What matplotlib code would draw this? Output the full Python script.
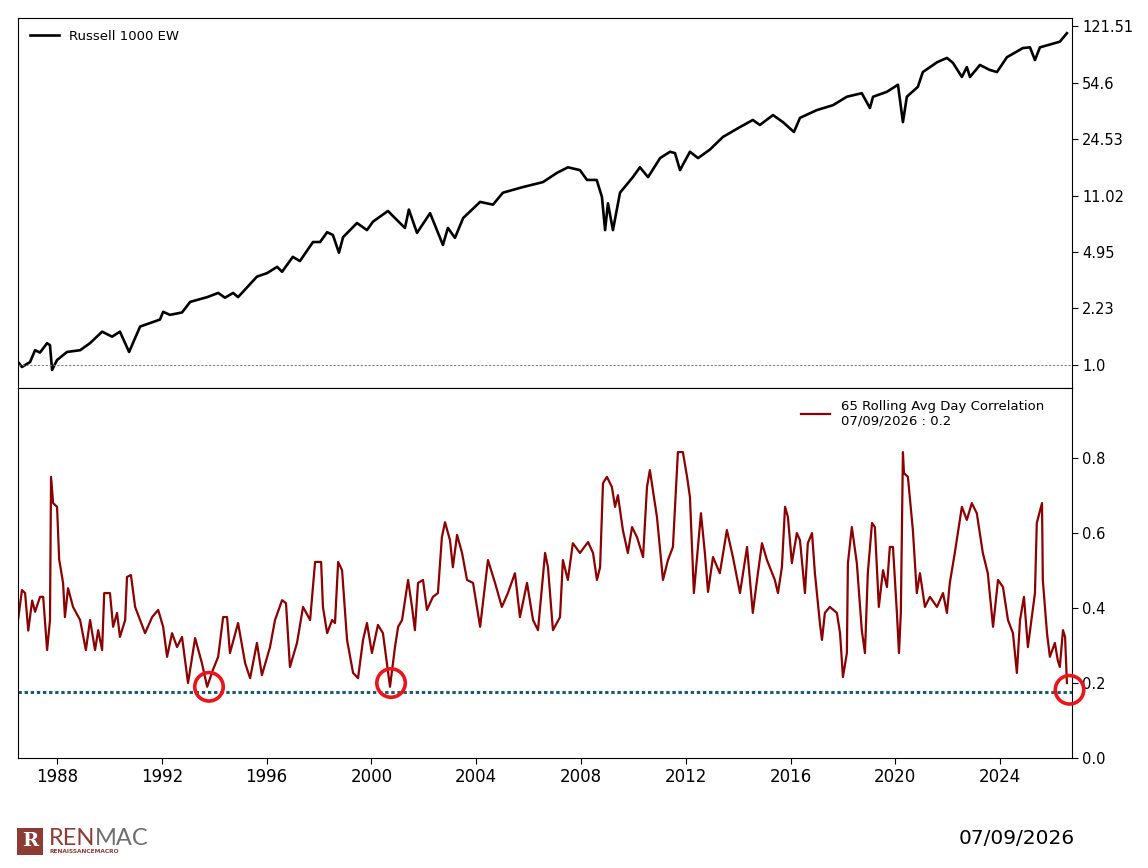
import matplotlib
matplotlib.use("Agg")
import matplotlib.pyplot as plt
from matplotlib.patches import Rectangle

# Russell 1000 EW index (log scale): decimal year, level
idx_years = [1986.51, 1986.66, 1986.97, 1987.16, 1987.35, 1987.62, 1987.73, 1987.81, 1988.0,
             1988.38, 1988.88, 1989.26, 1989.72, 1990.1, 1990.4, 1990.75, 1991.17, 1991.93,
             1992.05, 1992.31, 1992.77, 1993.08, 1993.73, 1994.15, 1994.41, 1994.72, 1994.91,
             1995.63, 1996.02, 1996.4, 1996.59, 1997.0, 1997.27, 1997.77, 1998.04, 1998.31,
             1998.53, 1998.76, 1998.92, 1999.45, 1999.83, 2000.06, 2000.63, 2000.98, 2001.28,
             2001.43, 2001.74, 2002.24, 2002.73, 2002.92, 2003.19, 2003.5, 2004.15,
             2004.64, 2005.02, 2005.79, 2006.55, 2007.08, 2007.5, 2007.96, 2008.23, 2008.6,
             2008.8, 2008.92, 2009.03, 2009.22, 2009.49, 2009.98, 2010.25, 2010.56, 2011.02,
             2011.4, 2011.59, 2011.78, 2012.16, 2012.47, 2012.92, 2013.42, 2014.07, 2014.56,
             2014.83, 2015.33, 2015.71, 2016.13, 2016.36, 2017.0, 2017.62, 2018.15, 2018.72,
             2019.03, 2019.15, 2019.68, 2020.1, 2020.29, 2020.44, 2020.86, 2021.05, 2021.6,
             2021.97, 2022.2, 2022.54, 2022.73, 2022.85, 2023.23, 2023.6, 2023.88, 2024.26,
             2024.87, 2025.14, 2025.33, 2025.52, 2026.28, 2026.55]
idx_values = [1.04, 0.97, 1.04, 1.23, 1.19, 1.36, 1.32, 0.93, 1.07,
              1.20, 1.23, 1.36, 1.60, 1.49, 1.60, 1.20, 1.72, 1.90,
              2.12, 2.03, 2.10, 2.44, 2.61, 2.77, 2.59, 2.77, 2.61,
              3.49, 3.67, 4.01, 3.74, 4.62, 4.35, 5.70, 5.70, 6.55,
              6.30, 4.90, 6.11, 7.46, 6.75, 7.61, 8.85, 7.77, 6.96,
              9.03, 6.49, 8.58, 5.47, 6.96, 6.05, 8.00, 10.07,
              9.68, 11.47, 12.43, 13.33, 15.18, 16.44, 15.80, 13.74, 13.74,
              10.80, 6.75, 9.87, 6.75, 11.47, 14.30, 16.44, 14.30, 18.73,
              20.49, 20.09, 15.80, 20.49, 18.73, 21.12, 25.28, 29.08, 32.14,
              29.96, 34.47, 31.19, 27.11, 33.12, 36.97, 39.65, 44.70, 46.99,
              38.09, 44.70, 47.94, 52.98, 31.19, 44.70, 51.42, 63.43, 72.97,
              77.48, 72.24, 59.15, 68.03, 59.15, 70.11, 65.37, 63.43, 78.26,
              89.12, 90.02, 75.19, 90.02, 97.51, 110.0]

# 65 day rolling average correlation
corr_years = [1986.51, 1986.66, 1986.78, 1986.9, 1987.05, 1987.16, 1987.35, 1987.47, 1987.62,
              1987.73, 1987.77, 1987.85, 1988.0, 1988.08, 1988.23, 1988.3, 1988.42, 1988.61,
              1988.88, 1989.1, 1989.26, 1989.45, 1989.57, 1989.72, 1989.8, 1990.02, 1990.14,
              1990.29, 1990.4, 1990.6, 1990.67, 1990.82, 1990.98, 1991.17, 1991.36, 1991.63,
              1991.86, 1992.05, 1992.2, 1992.39, 1992.58, 1992.77, 1993.0, 1993.27, 1993.53,
              1993.73, 1993.95, 1994.15, 1994.34, 1994.49, 1994.6, 1994.91, 1995.18, 1995.37,
              1995.63, 1995.82, 1996.13, 1996.32, 1996.59, 1996.74, 1996.89, 1997.16, 1997.39,
              1997.66, 1997.85, 1998.08, 1998.15, 1998.31, 1998.5, 1998.61, 1998.73, 1998.88,
              1999.07, 1999.3, 1999.49, 1999.68, 1999.83, 2000.02, 2000.25, 2000.44, 2000.71,
              2000.9, 2001.02, 2001.17, 2001.4, 2001.55, 2001.66, 2001.78, 2001.97, 2002.12,
              2002.35, 2002.54, 2002.69, 2002.81, 2003.0, 2003.11, 2003.27, 2003.46, 2003.65,
              2003.88, 2004.15, 2004.45, 2004.72, 2004.98, 2005.21, 2005.48, 2005.67, 2005.94,
              2006.17, 2006.36, 2006.63, 2006.74, 2006.93, 2007.2, 2007.31, 2007.5, 2007.69,
              2007.96, 2008.27, 2008.46, 2008.61, 2008.73, 2008.84, 2008.99, 2009.18, 2009.3,
              2009.41, 2009.6, 2009.79, 2009.95, 2010.14, 2010.37, 2010.52, 2010.63, 2010.9,
              2011.13, 2011.32, 2011.51, 2011.7, 2011.89, 2012.05, 2012.16, 2012.31, 2012.58,
              2012.73, 2012.85, 2013.04, 2013.3, 2013.57, 2013.8, 2014.07, 2014.34, 2014.56,
              2014.72, 2014.91, 2015.1, 2015.4, 2015.52, 2015.67, 2015.79, 2015.9, 2016.05,
              2016.24, 2016.36, 2016.55, 2016.66, 2016.82, 2016.93, 2017.12, 2017.2, 2017.31,
              2017.5, 2017.77, 2017.89, 2018.0, 2018.15, 2018.19, 2018.34, 2018.53, 2018.72,
              2018.84, 2018.95, 2019.11, 2019.22, 2019.37, 2019.53, 2019.68, 2019.79, 2019.91,
              2020.06, 2020.14, 2020.21, 2020.29, 2020.33, 2020.48, 2020.67, 2020.82, 2020.94,
              2021.13, 2021.32, 2021.59, 2021.82, 2021.97, 2022.08, 2022.27, 2022.54, 2022.73,
              2022.92, 2023.11, 2023.34, 2023.53, 2023.73, 2023.92, 2024.11, 2024.3, 2024.49,
              2024.64, 2024.76, 2024.91, 2025.06, 2025.21, 2025.33, 2025.4, 2025.6, 2025.63,
              2025.79, 2025.9, 2026.09, 2026.2, 2026.28, 2026.4, 2026.48, 2026.55]
corr_values = [0.368, 0.448, 0.44, 0.34, 0.42, 0.39, 0.43, 0.43, 0.288,
               0.368, 0.75, 0.68, 0.67, 0.53, 0.467, 0.376, 0.453, 0.403,
               0.368, 0.288, 0.368, 0.288, 0.341, 0.288, 0.44, 0.44, 0.35,
               0.387, 0.323, 0.368, 0.483, 0.488, 0.403, 0.368, 0.333, 0.376,
               0.395, 0.35, 0.27, 0.333, 0.296, 0.323, 0.2, 0.32, 0.253,
               0.19, 0.235, 0.27, 0.376, 0.376, 0.28, 0.36, 0.253, 0.213,
               0.307, 0.221, 0.296, 0.368, 0.421, 0.413, 0.243, 0.307, 0.403,
               0.368, 0.523, 0.523, 0.403, 0.333, 0.368, 0.36, 0.523, 0.501,
               0.315, 0.227, 0.213, 0.315, 0.36, 0.28, 0.355, 0.333, 0.19,
               0.296, 0.35, 0.368, 0.475, 0.403, 0.341, 0.467, 0.475, 0.395,
               0.43, 0.44, 0.589, 0.629, 0.581, 0.509, 0.595, 0.547, 0.475,
               0.467, 0.35, 0.528, 0.467, 0.403, 0.44, 0.493, 0.376, 0.467,
               0.368, 0.341, 0.547, 0.509, 0.341, 0.376, 0.528, 0.475, 0.573,
               0.547, 0.576, 0.547, 0.475, 0.509, 0.733, 0.75, 0.723, 0.67,
               0.701, 0.608, 0.547, 0.616, 0.589, 0.536, 0.723, 0.768, 0.643,
               0.475, 0.528, 0.563, 0.816, 0.816, 0.75, 0.696, 0.44, 0.653,
               0.547, 0.443, 0.536, 0.493, 0.608, 0.536, 0.44, 0.563, 0.387,
               0.475, 0.573, 0.528, 0.475, 0.44, 0.509, 0.67, 0.643, 0.52,
               0.6, 0.581, 0.44, 0.573, 0.6, 0.493, 0.36, 0.315, 0.387,
               0.403, 0.387, 0.333, 0.216, 0.28, 0.52, 0.616, 0.52, 0.341,
               0.28, 0.493, 0.627, 0.616, 0.403, 0.501, 0.456, 0.563, 0.563,
               0.387, 0.28, 0.387, 0.816, 0.76, 0.75, 0.608, 0.44, 0.493,
               0.403, 0.43, 0.403, 0.44, 0.387, 0.467, 0.547, 0.67, 0.635,
               0.68, 0.653, 0.547, 0.493, 0.35, 0.475, 0.456, 0.368, 0.333,
               0.227, 0.368, 0.43, 0.296, 0.376, 0.44, 0.627, 0.68, 0.475,
               0.333, 0.27, 0.307, 0.261, 0.243, 0.341, 0.323, 0.2]

threshold = 0.177
circled_years = [1993.8, 2000.75, 2026.65]
circled_values = [0.19, 0.2, 0.182]

log_ticks = [1.0, 2.23, 4.95, 11.02, 24.53, 54.6, 121.51]
corr_ticks = [0.0, 0.2, 0.4, 0.6, 0.8]
year_ticks = [1988, 1992, 1996, 2000, 2004, 2008, 2012, 2016, 2020, 2024]

fig = plt.figure(figsize=(11.48, 8.68), dpi=100)
ax1 = fig.add_axes([0.0157, 0.553, 0.918, 0.426])
ax2 = fig.add_axes([0.0157, 0.1267, 0.918, 0.4263], sharex=ax1)

# top panel
ax1.plot(idx_years, idx_values, color='black', lw=1.9, label='Russell 1000 EW')
ax1.axhline(1.0, color='gray', lw=0.8, ls=(0, (2, 1.5)))
ax1.set_yscale('log')
ax1.set_ylim(0.72, 136)
ax1.set_yticks(log_ticks)
ax1.set_yticklabels([str(t) for t in log_ticks])
ax1.minorticks_off()
ax1.yaxis.tick_right()
ax1.tick_params(axis='y', labelsize=10.5, length=4)
ax1.tick_params(axis='x', bottom=False, labelbottom=False)
ax1.legend(loc='upper left', frameon=False, fontsize=9.5, handlelength=2.2,
           borderaxespad=0.5)

# bottom panel
ax2.plot(corr_years, corr_values, color='#8b0000', lw=1.6,
         label='65 Rolling Avg Day Correlation\n07/09/2026 : 0.2')
ax2.axhline(threshold, color='#1d5b73', lw=2.2, ls=(0, (1.1, 0.9)))
ax2.scatter(circled_years, circled_values, s=420, facecolors='none',
            edgecolors='#e8161b', linewidths=2.6, zorder=5, clip_on=False)
ax2.set_ylim(0, 0.987)
ax2.set_yticks(corr_ticks)
ax2.set_yticklabels(['%.1f' % t for t in corr_ticks])
ax2.yaxis.tick_right()
ax2.tick_params(axis='y', labelsize=10.5, length=4)
ax2.set_xticks(year_ticks)
ax2.set_xticklabels([str(y) for y in year_ticks])
ax2.tick_params(axis='x', labelsize=12, length=4)
ax2.set_xlim(1986.51, 2026.74)
ax2.legend(loc='upper right', frameon=False, fontsize=9.5, handlelength=2.2,
           bbox_to_anchor=(0.985, 1.0), labelspacing=0.2, handletextpad=0.8)

# footer: logo and date
fig.patches.append(Rectangle((0.015, 0.0155), 0.0225, 0.031, transform=fig.transFigure,
                             facecolor='#8c3b35', edgecolor='none'))
fig.text(0.0262, 0.031, 'R', color='white', fontsize=14, fontweight='bold',
         ha='center', va='center', family='DejaVu Serif')
fig.text(0.0425, 0.034, 'REN', color='#8c3b35', fontsize=17, ha='left', va='center',
         family='Lato')
fig.text(0.0425 + 0.0405, 0.034, 'MAC', color='#6e6e70', fontsize=17, ha='left',
         va='center', family='Lato')
fig.text(0.0435, 0.0185, 'RENAISSANCEMACRO', color='#8c3b35', fontsize=4.2,
         ha='left', va='center', fontweight='bold')
fig.text(0.886, 0.0335, '07/09/2026', fontsize=14.5, ha='center', va='center')

fig.savefig('out.png', dpi=100)
